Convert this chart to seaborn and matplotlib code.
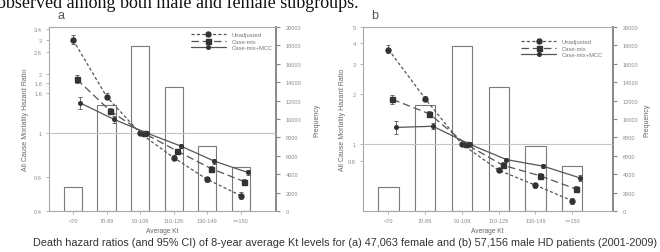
import numpy as np
import matplotlib
matplotlib.use("Agg")
import matplotlib.pyplot as plt
from matplotlib.lines import Line2D
import seaborn as sns

sns.set_theme(style="white")
plt.rcParams['font.family'] = ['Liberation Sans', 'DejaVu Sans']

# ---------------- data ----------------
categories = ['<70', '70-89', '90-109', '110-129', '130-149', '>=150']
series_names = ['Unadjusted', 'Case-mix', 'Case-mix+MCC']

freq_a = [2600, 11500, 17900, 13500, 7100, 4800]
freq_b = [2650, 11500, 17900, 13500, 7100, 4900]

hr_a_unadj = [3.00, 1.54, 1.00, 0.75, 0.58, 0.48]
hr_a_cm = [1.89, 1.30, 1.00, 0.81, 0.66, 0.565]
hr_a_mcc = [1.43, 1.18, 1.00, 0.86, 0.72, 0.63]
lo_a_unadj = [2.85, 1.49, 1.00, 0.73, 0.56, 0.46]
hi_a_unadj = [3.17, 1.60, 1.00, 0.77, 0.60, 0.50]
lo_a_cm = [1.80, 1.26, 1.00, 0.79, 0.64, 0.545]
hi_a_cm = [1.98, 1.35, 1.00, 0.83, 0.68, 0.585]
lo_a_mcc = [1.33, 1.13, 1.00, 0.84, 0.70, 0.61]
hi_a_mcc = [1.53, 1.23, 1.00, 0.88, 0.74, 0.65]

hr_b_unadj = [3.67, 1.87, 1.00, 0.70, 0.57, 0.46]
hr_b_cm = [1.85, 1.52, 1.00, 0.75, 0.65, 0.54]
hr_b_mcc = [1.26, 1.28, 1.00, 0.81, 0.74, 0.63]
lo_b_unadj = [3.48, 1.80, 1.00, 0.68, 0.55, 0.44]
hi_b_unadj = [3.90, 1.94, 1.00, 0.72, 0.59, 0.48]
lo_b_cm = [1.74, 1.47, 1.00, 0.73, 0.63, 0.52]
hi_b_cm = [1.97, 1.57, 1.00, 0.78, 0.67, 0.56]
lo_b_mcc = [1.15, 1.23, 1.00, 0.79, 0.72, 0.60]
hi_b_mcc = [1.37, 1.33, 1.00, 0.83, 0.76, 0.66]

hr_ticks_a = [0.4, 0.6, 1, 1.6, 1.8, 2, 2.6, 3, 3.4]
hr_ticks_b = [0.8, 1, 2, 3, 4, 5]
freq_ticks = [0, 2000, 4000, 6000, 8000, 10000, 12000, 14000, 16000, 18000, 20000]

top_text = "observed among both male and female subgroups."
caption = ("Death hazard ratios (and 95% CI) of 8-year average Kt levels for "
           "(a) 47,063 female and (b) 57,156 male HD patients (2001-2009)")

# ---------------- styles ----------------
W, H = 660, 253
fig = plt.figure(figsize=(W / 100, H / 100), dpi=100)
fig.patch.set_facecolor('white')

line_col = '#555555'
mark_col = '#333333'
tick_col = '#8a8a8a'
lab_col = '#666666'
spine_col = '#a8a8a8'

styles = [
    dict(ls=(0, (2.5, 1.8)), marker='o', ms=3.6, offset=0.0),
    dict(ls=(0, (6, 3)), marker='s', ms=3.6, offset=0.11),
    dict(ls='-', marker='o', ms=2.6, offset=0.21),
]


def panel(rect, freq, hrs, los, his, ylim, hticks, xlim, letter, letter_xy,
          ylab_x, flab_x, leg_anchor):
    ax_f = fig.add_axes(rect)
    sns.barplot(x=categories, y=freq, ax=ax_f, color='white', saturation=1,
                edgecolor='#7a7a7a', linewidth=0.8, width=0.55)
    ax_h = ax_f.twinx()

    ax_f.set_ylim(0, 20000)
    ax_f.set_xlim(*xlim)
    ax_f.yaxis.tick_right()
    ax_f.yaxis.set_label_position('right')
    ax_f.set_yticks(freq_ticks)
    ax_f.set_yticklabels([str(t) for t in freq_ticks], fontsize=4.1, color=tick_col)
    ax_f.set_ylabel('Frequency', fontsize=5.0, color=lab_col)
    ax_f.yaxis.set_label_coords(flab_x, 0.5)
    ax_f.set_xlabel('Average Kt', fontsize=4.8, color=lab_col, labelpad=3)
    ax_f.set_xticks(range(len(categories)))
    ax_f.set_xticklabels(categories, fontsize=4.0, color=tick_col)
    ax_f.tick_params(axis='x', length=2, width=0.6, color=spine_col, pad=3,
                     bottom=True)
    ax_f.tick_params(axis='y', length=3, width=0.8, color='#888888', pad=4,
                     right=True, left=False, labelright=True, labelleft=False)
    for s in ['left', 'top', 'bottom']:
        ax_f.spines[s].set_color(spine_col)
        ax_f.spines[s].set_linewidth(0.8)
    ax_f.spines['right'].set_color('#888888')
    ax_f.spines['right'].set_linewidth(1.4)

    ax_h.set_yscale('log')
    ax_h.set_ylim(*ylim)
    ax_h.yaxis.tick_left()
    ax_h.yaxis.set_label_position('left')
    ax_h.set_yticks(hticks)
    ax_h.set_yticklabels([f'{t:g}' for t in hticks], fontsize=4.1, color=tick_col)
    ax_h.yaxis.set_minor_locator(matplotlib.ticker.NullLocator())
    ax_h.tick_params(axis='y', which='major', length=2, width=0.6,
                     color=spine_col, pad=3, left=True, right=False,
                     labelleft=True, labelright=False)
    ax_h.set_ylabel('All Cause Mortality Hazard Ratio', fontsize=5.0, color=lab_col)
    ax_h.yaxis.set_label_coords(ylab_x, 0.5)
    for s in ax_h.spines.values():
        s.set_visible(False)
    ax_h.axhline(1, color='#c4c4c4', lw=0.8, zorder=1)

    x = np.arange(len(categories))
    handles = []
    for st, hr, lo, hi, name in zip(styles, hrs, los, his, series_names):
        hr = np.array(hr)
        err = np.vstack([hr - np.array(lo), np.array(hi) - hr])
        ax_h.errorbar(x + st['offset'], hr, yerr=err, color=line_col,
                      ecolor=line_col, elinewidth=0.6, capsize=1.5,
                      capthick=0.6, ls=st['ls'], lw=0.9, marker=st['marker'],
                      ms=st['ms'], mfc=mark_col, mec=mark_col, zorder=3)
        handles.append(Line2D([0], [0], color=line_col, ls=st['ls'], lw=0.9,
                              marker=st['marker'], ms=st['ms'], mfc=mark_col,
                              mec=mark_col))
    ax_h.set_xlim(*xlim)
    leg = fig.legend(handles, series_names, loc='center left',
                     bbox_to_anchor=leg_anchor, frameon=False, fontsize=4.2,
                     handlelength=6.0, handletextpad=1.0, labelspacing=0.3,
                     borderpad=0, borderaxespad=0)
    for t in leg.get_texts():
        t.set_color('#777777')
    fig.text(letter_xy[0] / W, 1 - letter_xy[1] / H, letter, fontsize=9,
             color='#555555', ha='center', va='center')
    return ax_f, ax_h


panel([49 / W, 1 - 212 / H, 227 / W, 184 / H], freq_a,
      [hr_a_unadj, hr_a_cm, hr_a_mcc], [lo_a_unadj, lo_a_cm, lo_a_mcc],
      [hi_a_unadj, hi_a_cm, hi_a_mcc], (0.4, 3.5), hr_ticks_a, (-0.72, 6.05),
      'a', (61, 16), -0.09, 1.165, (191 / W, 1 - 42 / H))

panel([362.7 / W, 1 - 212 / H, 250 / W, 184 / H], freq_b,
      [hr_b_unadj, hr_b_cm, hr_b_mcc], [lo_b_unadj, lo_b_cm, lo_b_mcc],
      [hi_b_unadj, hi_b_cm, hi_b_mcc], (0.4, 5.0), hr_ticks_b, (-0.7, 6.1),
      'b', (375, 16), -0.065, 1.122, (521 / W, 1 - 49 / H))

fig.text(-3 / W, 1 - 7.5 / H, top_text, family=['Liberation Serif', 'DejaVu Serif'],
         fontsize=13, color='#111111', ha='left', va='baseline')
fig.text(345 / W, 1 - 243 / H, caption, fontsize=7.8, color='#333333',
         ha='center', va='center')

fig.savefig('out.png', dpi=100, facecolor='white')
